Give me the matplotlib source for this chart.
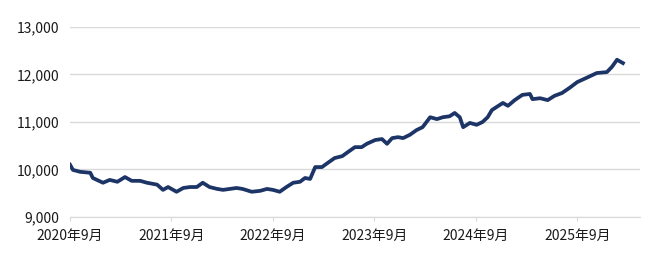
import matplotlib
matplotlib.use('Agg')
import matplotlib.pyplot as plt
from matplotlib.ticker import FuncFormatter

plt.rcParams['font.family'] = ['Noto Sans CJK JP', 'DejaVu Sans']

# months elapsed since 2020年9月, and index level
months = [0.0, 0.35, 1.2, 2.4, 2.7, 3.9, 4.7, 5.6, 6.5, 7.3, 8.3, 9.1, 10.3,
          11.0, 11.6, 12.6, 13.4, 14.2, 15.0, 15.7, 16.5, 17.4, 18.1, 18.9,
          19.7, 20.4, 21.5, 22.5, 23.3, 24.0, 24.8, 25.6, 26.4, 27.2, 27.8,
          28.4, 29.0, 29.8, 30.5, 31.3, 32.2, 32.9, 33.7, 34.5, 35.1, 36.1,
          36.9, 37.5, 38.1, 38.8, 39.4, 40.2, 41.0, 41.7, 42.6, 43.4, 44.1,
          44.9, 45.5, 46.1, 46.5, 47.3, 48.1, 48.8, 49.4, 49.9, 50.5, 51.2,
          51.8, 52.6, 53.5, 54.4, 54.7, 55.6, 56.5, 57.3, 58.2, 59.1, 60.0,
          61.1, 62.3, 63.5, 64.1, 64.7, 65.4]
values = [10100, 9990, 9950, 9930, 9820, 9720, 9780, 9740, 9840, 9760, 9760,
          9720, 9680, 9570, 9630, 9530, 9610, 9630, 9630, 9720, 9630, 9590,
          9570, 9590, 9610, 9590, 9530, 9550, 9590, 9570, 9530, 9630, 9720,
          9740, 9820, 9800, 10050, 10050, 10140, 10240, 10280, 10370, 10470,
          10470, 10540, 10620, 10640, 10540, 10660, 10680, 10660, 10730,
          10830, 10890, 11100, 11060, 11100, 11120, 11190, 11100, 10890,
          10980, 10940, 11000, 11100, 11250, 11320, 11400, 11340, 11460,
          11570, 11590, 11480, 11500, 11460, 11550, 11610, 11720, 11840,
          11930, 12030, 12050, 12160, 12310, 12240]

tick_months = [0, 12, 24, 36, 48, 60]
tick_labels = ['2020年9月', '2021年9月', '2022年9月', '2023年9月', '2024年9月', '2025年9月']
y_ticks = [9000, 10000, 11000, 12000, 13000]

fig = plt.figure(figsize=(6.58, 2.62), dpi=100)
ax = fig.add_axes([0.1064, 0.172, 0.866, 0.725])

ax.plot(months, values, color='#1d3566', linewidth=2.7, solid_joinstyle='round')

ax.set_xlim(0, 67.4)
ax.set_ylim(9000, 13000)
ax.set_yticks(y_ticks)
ax.yaxis.set_major_formatter(FuncFormatter(lambda v, p: '{:,.0f}'.format(v)))
ax.set_xticks(tick_months)
ax.set_xticklabels(tick_labels)

ax.grid(axis='y', color='#d9d9d9', linewidth=1)
ax.set_axisbelow(True)
for s in ['top', 'right', 'left']:
    ax.spines[s].set_visible(False)
ax.spines['bottom'].set_color('#d9d9d9')
ax.tick_params(axis='y', length=0, pad=8, labelsize=10, labelcolor='#1a1a1a')
ax.tick_params(axis='x', length=3, color='#d9d9d9', pad=6, labelsize=10, labelcolor='#1a1a1a')

fig.savefig('out.png', dpi=100)
